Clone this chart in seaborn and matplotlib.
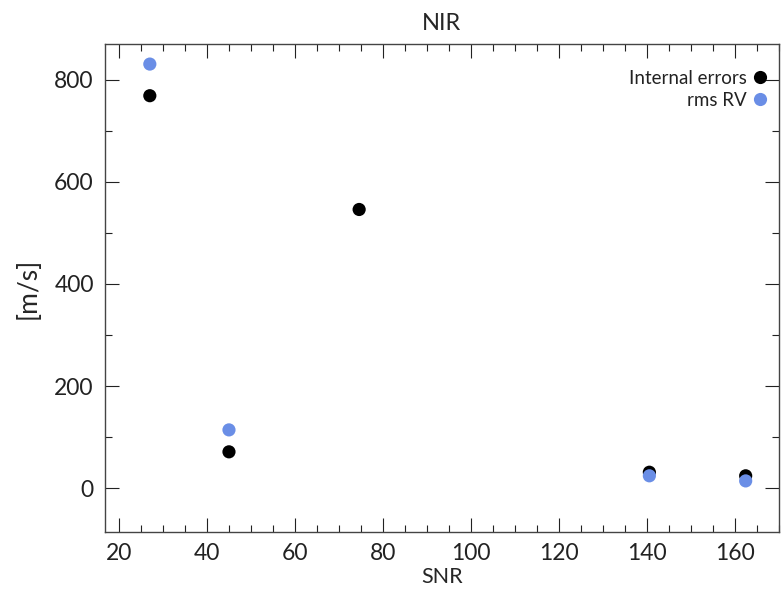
import matplotlib
matplotlib.use("Agg")
import matplotlib.pyplot as plt
from matplotlib.ticker import MultipleLocator
import pandas as pd
import seaborn as sns

# values
snr_internal = [27, 45, 74.6, 140.6, 162.5]
err_internal = [769, 71, 546, 31, 24]
snr_rms = [27, 45, 140.6, 162.5]
err_rms = [831, 114, 24, 14]

sns.set_theme(style="white")
plt.rcParams['font.family'] = ['Lato', 'DejaVu Sans']

df = pd.concat([
    pd.DataFrame({'SNR': snr_internal, 'err': err_internal, 'kind': 'Internal errors'}),
    pd.DataFrame({'SNR': snr_rms, 'err': err_rms, 'kind': 'rms RV'}),
], ignore_index=True)

fig = plt.figure(figsize=(7.81, 5.97), dpi=100)
ax = fig.add_axes([0.1344, 0.109, 0.8626, 0.817])

sns.scatterplot(data=df, x='SNR', y='err', hue='kind',
                palette={'Internal errors': 'black', 'rms RV': '#6A8EE6'},
                s=90, edgecolor='none', ax=ax)

ax.set_xlim(16.8, 170)
ax.set_ylim(-86, 870)
ax.xaxis.set_major_locator(MultipleLocator(20))
ax.xaxis.set_minor_locator(MultipleLocator(5))
ax.yaxis.set_major_locator(MultipleLocator(200))
ax.yaxis.set_minor_locator(MultipleLocator(100))
ax.tick_params(which='both', direction='in', top=True, right=True,
               bottom=True, left=True, colors='#222222', labelsize=16.5, pad=8)
ax.tick_params(which='major', length=10, width=0.8)
ax.tick_params(which='minor', length=5, width=0.8)
for sp in ax.spines.values():
    sp.set_color('#444444')
    sp.set_linewidth(1.0)

ax.set_xlabel('SNR', fontsize=15.5, labelpad=2)
ax.set_ylabel('[m/s]', fontsize=19, labelpad=10)
ax.set_title('NIR', fontsize=17, pad=10)

leg = ax.legend(loc='upper right', bbox_to_anchor=(1.005, 0.97),
                markerfirst=False, frameon=False,
                fontsize=13.5, handletextpad=0.1, borderaxespad=0.2,
                labelspacing=0.25, handlelength=1.2, title=None)
for t in leg.get_texts():
    t.set_ha('right')
    t.set_color('#222222')

fig.savefig('out.png', dpi=100)
